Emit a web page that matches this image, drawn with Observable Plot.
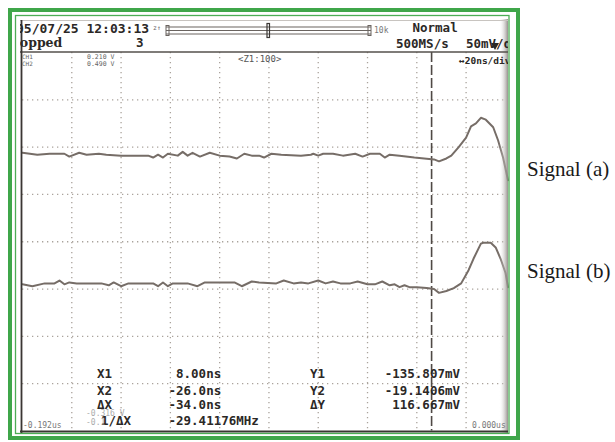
<!DOCTYPE html>
<html><head><meta charset="utf-8">
<script src="https://cdn.jsdelivr.net/npm/d3@7"></script>
<script src="https://cdn.jsdelivr.net/npm/@observablehq/plot@0.6"></script>
<style>html,body{margin:0;padding:0;background:#fff;} svg{display:block}</style>
</head><body><div id="chart"></div>
<script>
// ---- data (time in ns, voltage in mV, 20 ns/div, 50 mV/div) ----
const sigA_t = [-192,-186,-181,-175,-173,-169,-166,-161,-158,-152,-141,-139,-137,-135,-133,-129,-127,-125,-123,-120,-116,-112,-108,-105,-102,-99,-96,-94,-91,-87,-79,-75,-74,-72,-70,-66,-62,-57,-54,-51,-47,-45,-43,-39,-33,-29,-25,-23,-20,-18,-15,-12,-10,-8,-6,-4,-1,1,3,5];
const sigA_mV = [94,92,93,93,90,94,92,93,92,91,91,89,92,89,93,91,95,91,94,90,94,91,90,88,93,91,91,89,93,92,91,92,93,91,93,93,91,93,90,93,93,89,92,91,89,88,87,85,88,91,100,110,122,125,131,129,121,107,89,65];
const sigB_t = [-192,-188,-183,-179,-177,-175,-173,-170,-160,-157,-155,-152,-149,-139,-137,-135,-133,-131,-125,-121,-118,-106,-103,-99,-96,-89,-86,-82,-79,-76,-72,-69,-66,-63,-59,-56,-52,-49,-46,-43,-41,-39,-37,-35,-32,-28,-25,-23,-20,-17,-14,-11,-9,-6,-5,-2,0,2,4,5];
const sigB_mV = [-45,-47,-44,-44,-41,-45,-43,-44,-44,-46,-43,-47,-44,-44,-47,-43,-47,-44,-44,-47,-43,-43,-47,-42,-43,-44,-41,-44,-43,-44,-41,-44,-42,-44,-44,-42,-45,-45,-42,-46,-45,-48,-46,-48,-48,-49,-50,-54,-52,-49,-44,-30,-18,-2,-1,-1,-6,-18,-33,-48];
const gridT = [-172,-152,-132,-112,-92,-72,-52,-32,-12];
const gridV = [150,100,50,0,-50,-100,-150];
const cursorT = [-26];
const seriesNames = ["Signal (a)", "Signal (b)"];
const headerTexts = ["05/07/25 12:03:13", "Stopped", "3", "Normal", "500MS/s", "50mV/div", "\u219420ns/div", "<Z1:100>"];
const chLabels = ["CH1", "CH2"];
const chValues = ["0.210 V", "0.490 V"];
const xLabels = ["X1", "X2", "\u0394X", "1/\u0394X"];
const xValues = [" 8.00ns", "-26.0ns", "-34.0ns", "-29.41176MHz"];
const yLabels = ["Y1", "Y2", "\u0394Y"];
const yValues = ["-135.807mV", "-19.1406mV", "116.667mV"];
const edgeLabels = ["-0.192us", "0.000us"];

const A = sigA_t.map((t, i) => ({t, v: sigA_mV[i]}));
const B = sigB_t.map((t, i) => ({t, v: sigB_mV[i]}));

const traceColor = "#766d67";
const gridColor = "#aaa39c";
const chart = Plot.plot({
  width: 615, height: 442,
  marginLeft: 22, marginRight: 108, marginTop: 52, marginBottom: 11.5,
  x: {domain: [-192, 4.8], axis: null},
  y: {domain: [-200, 200], axis: null},
  style: {background: "white", overflow: "visible"},
  marks: [
    Plot.ruleX(gridT, {stroke: gridColor, strokeWidth: 1.3, strokeDasharray: "1.3,3.7"}),
    Plot.ruleY(gridV, {stroke: gridColor, strokeWidth: 1.3, strokeDasharray: "1.3,3.7"}),
    Plot.ruleX(cursorT, {stroke: "#4f4945", strokeWidth: 1.6, strokeDasharray: "10,3"}),
    Plot.line(A, {x: "t", y: "v", stroke: traceColor, strokeWidth: 2, strokeLinejoin: "round"}),
    Plot.line(B, {x: "t", y: "v", stroke: traceColor, strokeWidth: 2, strokeLinejoin: "round"})
  ]
});
document.getElementById("chart").appendChild(chart);

const svg = d3.select(chart);
const mono = "'DejaVu Sans Mono', 'Liberation Mono', monospace";
const ink = "#2b2826";
const defs = svg.append("defs");
defs.append("clipPath").attr("id", "scr").append("rect").attr("x", 20).attr("y", 19).attr("width", 488).attr("height", 414);
const grad = defs.append("linearGradient").attr("id", "shade").attr("x1", 0).attr("x2", 1);
grad.append("stop").attr("offset", 0).attr("stop-color", "#ffffff").attr("stop-opacity", 0);
grad.append("stop").attr("offset", 1).attr("stop-color", "#8a8480").attr("stop-opacity", 0.9);

const g = svg.append("g").attr("clip-path", "url(#scr)");
g.append("rect").attr("x", 499).attr("y", 19).attr("width", 9).attr("height", 414).attr("fill", "url(#shade)");
g.append("line").attr("x1", 20).attr("x2", 508).attr("y1", 52).attr("y2", 52).attr("stroke", "#55504c").attr("stroke-width", 1.4);
g.append("line").attr("x1", 20).attr("x2", 508).attr("y1", 20.5).attr("y2", 20.5).attr("stroke", "#c8c4c0").attr("stroke-width", 1);
g.append("line").attr("x1", 21.5).attr("x2", 21.5).attr("y1", 20).attr("y2", 433).attr("stroke", "#3a3633").attr("stroke-width", 1.8);
g.append("line").attr("x1", 20).attr("x2", 508).attr("y1", 431.5).attr("y2", 431.5).attr("stroke", "#3a3633").attr("stroke-width", 1.8);

function txt(parent, x, y, s, o = {}) {
  return parent.append("text").attr("x", x).attr("y", y).text(s)
    .attr("font-family", o.family || mono).attr("font-size", o.size || 12.5)
    .attr("font-weight", o.weight || "bold").attr("fill", o.fill || ink)
    .attr("text-anchor", o.anchor || "start").attr("opacity", o.opacity == null ? 1 : o.opacity)
    .style("white-space", "pre");
}
// header
txt(g, 16, 33, headerTexts[0], {size: 13});
txt(g, 153, 30, "z\u2191", {size: 6.5, weight: "normal", fill: "#666"});
const bar = g.append("g").attr("stroke", "#6a6460").attr("fill", "none");
[27, 30.5, 34].forEach(y => bar.append("line").attr("x1", 166).attr("x2", 371).attr("y1", y).attr("y2", y).attr("stroke-width", 1.2));
bar.append("rect").attr("x", 166).attr("y", 25.5).attr("width", 3).attr("height", 10).attr("stroke-width", 1);
bar.append("rect").attr("x", 368).attr("y", 25.5).attr("width", 3).attr("height", 10).attr("stroke-width", 1);
bar.append("rect").attr("x", 267).attr("y", 23.5).attr("width", 2.5).attr("height", 14).attr("stroke-width", 1.2).attr("stroke", "#3a3633");
txt(g, 374, 33, "10k", {size: 8, weight: "normal", fill: "#777"});
txt(g, 412.5, 32, headerTexts[3], {size: 12.5});
txt(g, 5, 47, headerTexts[1], {size: 12.5, family: "'DejaVu Serif', serif"});
txt(g, 136, 47, headerTexts[2], {size: 12.5});
txt(g, 396, 47.5, headerTexts[4], {size: 12.5});
txt(g, 466, 47.5, headerTexts[5], {size: 12.5});
g.append("path").attr("d", "M491,43 L499,43 L495,50 Z").attr("fill", ink);
txt(g, 459, 63.5, headerTexts[6], {size: 9.5});
txt(g, 238, 62, headerTexts[7], {size: 9, weight: "normal", fill: "#555"});
chLabels.forEach((s, i) => txt(g, 22, 58.5 + i * 7, s, {size: 6, weight: "normal", fill: "#666"}));
chValues.forEach((s, i) => txt(g, 87, 58.5 + i * 7, s, {size: 6.5, weight: "normal", fill: "#666"}));

// bottom readouts
const rowY = [378, 394.5, 409, 425];
xLabels.forEach((s, i) => txt(g, i < 3 ? 97 : 101, rowY[i], s, {size: 12.5}));
xValues.forEach((s, i) => txt(g, 168.5, rowY[i], s, {size: 12.5}));
yLabels.forEach((s, i) => txt(g, 310, rowY[i], s, {size: 12.5}));
yValues.forEach((s, i) => txt(g, 460, rowY[i], s, {size: 12.5, anchor: "end"}));
txt(g, 86, 416, "-0.316 V", {size: 8, weight: "normal", fill: "#888", opacity: 0.7});
txt(g, 86, 425, "-0.1", {size: 8, weight: "normal", fill: "#888", opacity: 0.7});
txt(g, 23, 428, edgeLabels[0], {size: 8, weight: "normal", fill: "#777"});
txt(g, 472, 428, edgeLabels[1], {size: 8, weight: "normal", fill: "#777"});

// green frames
svg.append("rect").attr("x", 10).attr("y", 10).attr("width", 508).attr("height", 428)
  .attr("fill", "none").attr("stroke", "#3fa64a").attr("stroke-width", 4);
svg.append("rect").attr("x", 15.5).attr("y", 15.5).attr("width", 493.5).attr("height", 418)
  .attr("fill", "none").attr("stroke", "#4cad55").attr("stroke-width", 1.3);

// series labels
const lab = {family: "'Liberation Serif', 'Times New Roman', serif", size: 21, weight: "normal", fill: "#1a1a1a"};
txt(svg, 527, 175.5, seriesNames[0], lab);
txt(svg, 527, 277.5, seriesNames[1], lab);
</script>
</body></html>
